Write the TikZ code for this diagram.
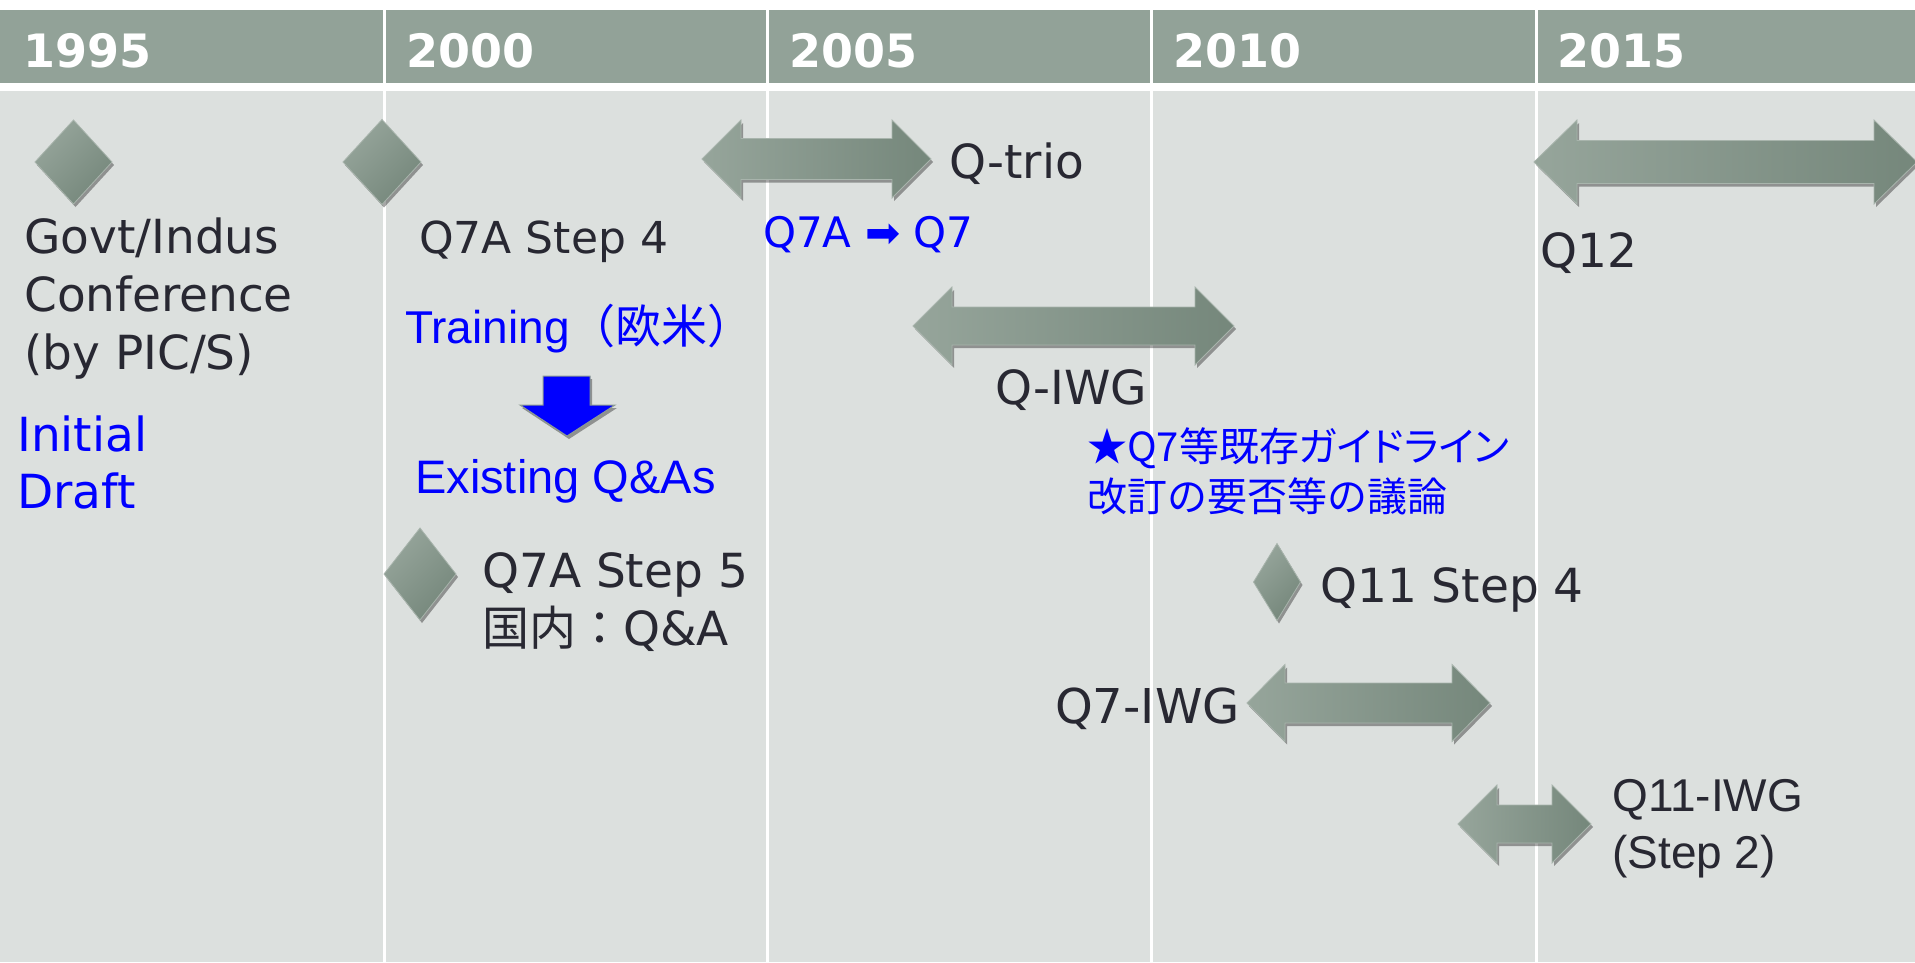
\documentclass[tikz,border=0pt]{standalone}
\usepackage{fontspec}
\setmainfont{DejaVu Sans}
\newfontfamily\arialf{Liberation Sans}
\newfontfamily\cjk{Noto Sans CJK JP}
\newfontfamily\cjkp[RawFeature=+palt]{Noto Sans CJK JP}
\usetikzlibrary{shapes.geometric,shadows}
\definecolor{hdr}{RGB}{146,162,152}
\definecolor{bdy}{RGB}{220,224,222}
\definecolor{tdark}{RGB}{40,40,50}
\definecolor{glight}{RGB}{150,165,155}
\definecolor{gdark}{RGB}{117,135,123}
\definecolor{gedge}{RGB}{168,180,172}
\definecolor{bedge}{RGB}{140,155,145}
\definecolor{myblue}{RGB}{0,0,255}
\tikzset{
  shd/.style={drop shadow={shadow xshift=2pt, shadow yshift=-3pt, opacity=0.35, fill=black}},
  diam/.style={shape=diamond, inner sep=0pt, outer sep=0pt, draw=gedge, line width=0.8pt,
    top color=glight, bottom color=gdark, shading angle=45, shd},
  garrow/.style={draw=gedge, line width=0.8pt, left color=glight, right color=gdark, shd},
  yearlbl/.style={anchor=base west, inner sep=0pt, text=white, font=\fontsize{46}{46}\bfseries\selectfont},
  vtxt/.style={anchor=base west, inner sep=0pt, text=tdark, align=left, font=\fontsize{47}{58}\selectfont},
  atxt/.style={anchor=base west, inner sep=0pt, text=tdark, align=left, font=\arialf\fontsize{46}{57}\selectfont},
  btxt/.style={anchor=base west, inner sep=0pt, text=myblue, align=left, font=\fontsize{47}{57}\selectfont},
  divline/.style={draw=white, line width=3pt},
}
\newcommand{\dblarr}[6]{% x1 x2 yc H S L
  \path[garrow] (#1,#3) -- (#1+#6,#3-#4) -- (#1+#6,#3-#5) -- (#2-#6,#3-#5) -- (#2-#6,#3-#4)
    -- (#2,#3) -- (#2-#6,#3+#4) -- (#2-#6,#3+#5) -- (#1+#6,#3+#5) -- (#1+#6,#3+#4) -- cycle;}
\begin{document}
\begin{tikzpicture}[x=1pt,y=-1pt]
\useasboundingbox (0,0) rectangle (1915,962);
\fill[white] (0,0) rectangle (1915,962);
% header and body
\fill[hdr] (0,10) rectangle (1915,83);
\fill[bdy] (0,91) rectangle (1915,962);
\foreach \xx in {384,767,1151,1536}{\draw[divline] (\xx,10) -- (\xx,962);}
% years
\node[yearlbl] (y1995) at (23,67) {1995};
\node[yearlbl] (y2000) at (406,67) {2000};
\node[yearlbl] (y2005) at (789,67) {2005};
\node[yearlbl] (y2010) at (1173,67) {2010};
\node[yearlbl] (y2015) at (1557,67) {2015};
% diamonds
\node[diam, minimum width=77pt, minimum height=84pt] (d1) at (73.5,162) {};
\node[diam, minimum width=78pt, minimum height=85pt] (d2) at (382,162) {};
\node[diam, minimum width=72pt, minimum height=92pt] (d3) at (420,574) {};
\node[diam, minimum width=47pt, minimum height=77pt] (d4) at (1277,582) {};
% double arrows
\dblarr{702}{931}{159}{39}{20.5}{39}
\dblarr{913}{1234}{326}{39}{19}{39}
\dblarr{1247}{1490}{703}{38.5}{20}{38}
\dblarr{1458}{1591}{824}{39}{19}{39}
\dblarr{1534}{1917}{162}{42}{21.5}{43}
% blue down arrow
\path[draw=bedge, line width=1pt, fill=myblue, shd] (543,376) -- (590,376) -- (590,405) -- (615,405)
  -- (567,436) -- (520,405) -- (543,405) -- cycle;
% texts (multi-line nodes: base anchor = last line baseline)
\node[vtxt] (govt) at (24,369) {Govt/Indus\\Conference\\(by PIC/S)};
\node[btxt] (init) at (17,508) {Initial\\Draft};
\node[vtxt, font=\fontsize{44}{58}\selectfont] (q7a4) at (419,253) {Q7A Step 4};
\node[atxt, text=myblue] (train) at (405,343) {Training{\cjk（欧米）}};
\node[atxt, text=myblue, font=\arialf\fontsize{47}{57}\selectfont] (exist) at (415,493) {Existing Q\&As};
\node[vtxt] (q7a5) at (482,645) {Q7A Step 5\\{\cjk 国内：}Q\&A};
\node[vtxt] (qtrio) at (949,178) {Q-trio};
\node[btxt, font=\fontsize{42}{42}\selectfont] (q7aq7) at (763,247) {Q7A ➡ Q7};
\node[vtxt] (q12) at (1540,267) {Q12};
\node[vtxt] (qiwg) at (995,404) {Q-IWG};
\node[anchor=base west, inner sep=0pt, text=myblue, align=left, font=\fontsize{40}{50}\selectfont] (star) at (1087,511)
  {{\cjkp ★Q7等既存ガイドライン}\\{\cjk 改訂の要否等の議論}};
\node[vtxt] (q11s4) at (1320,602) {Q11 Step 4};
\node[vtxt, font=\fontsize{48}{58}\selectfont] (q7iwg) at (1055,723) {Q7-IWG};
\node[atxt] (q11iwg) at (1612,868) {Q11-IWG\\(Step 2)};
\end{tikzpicture}
\end{document}
